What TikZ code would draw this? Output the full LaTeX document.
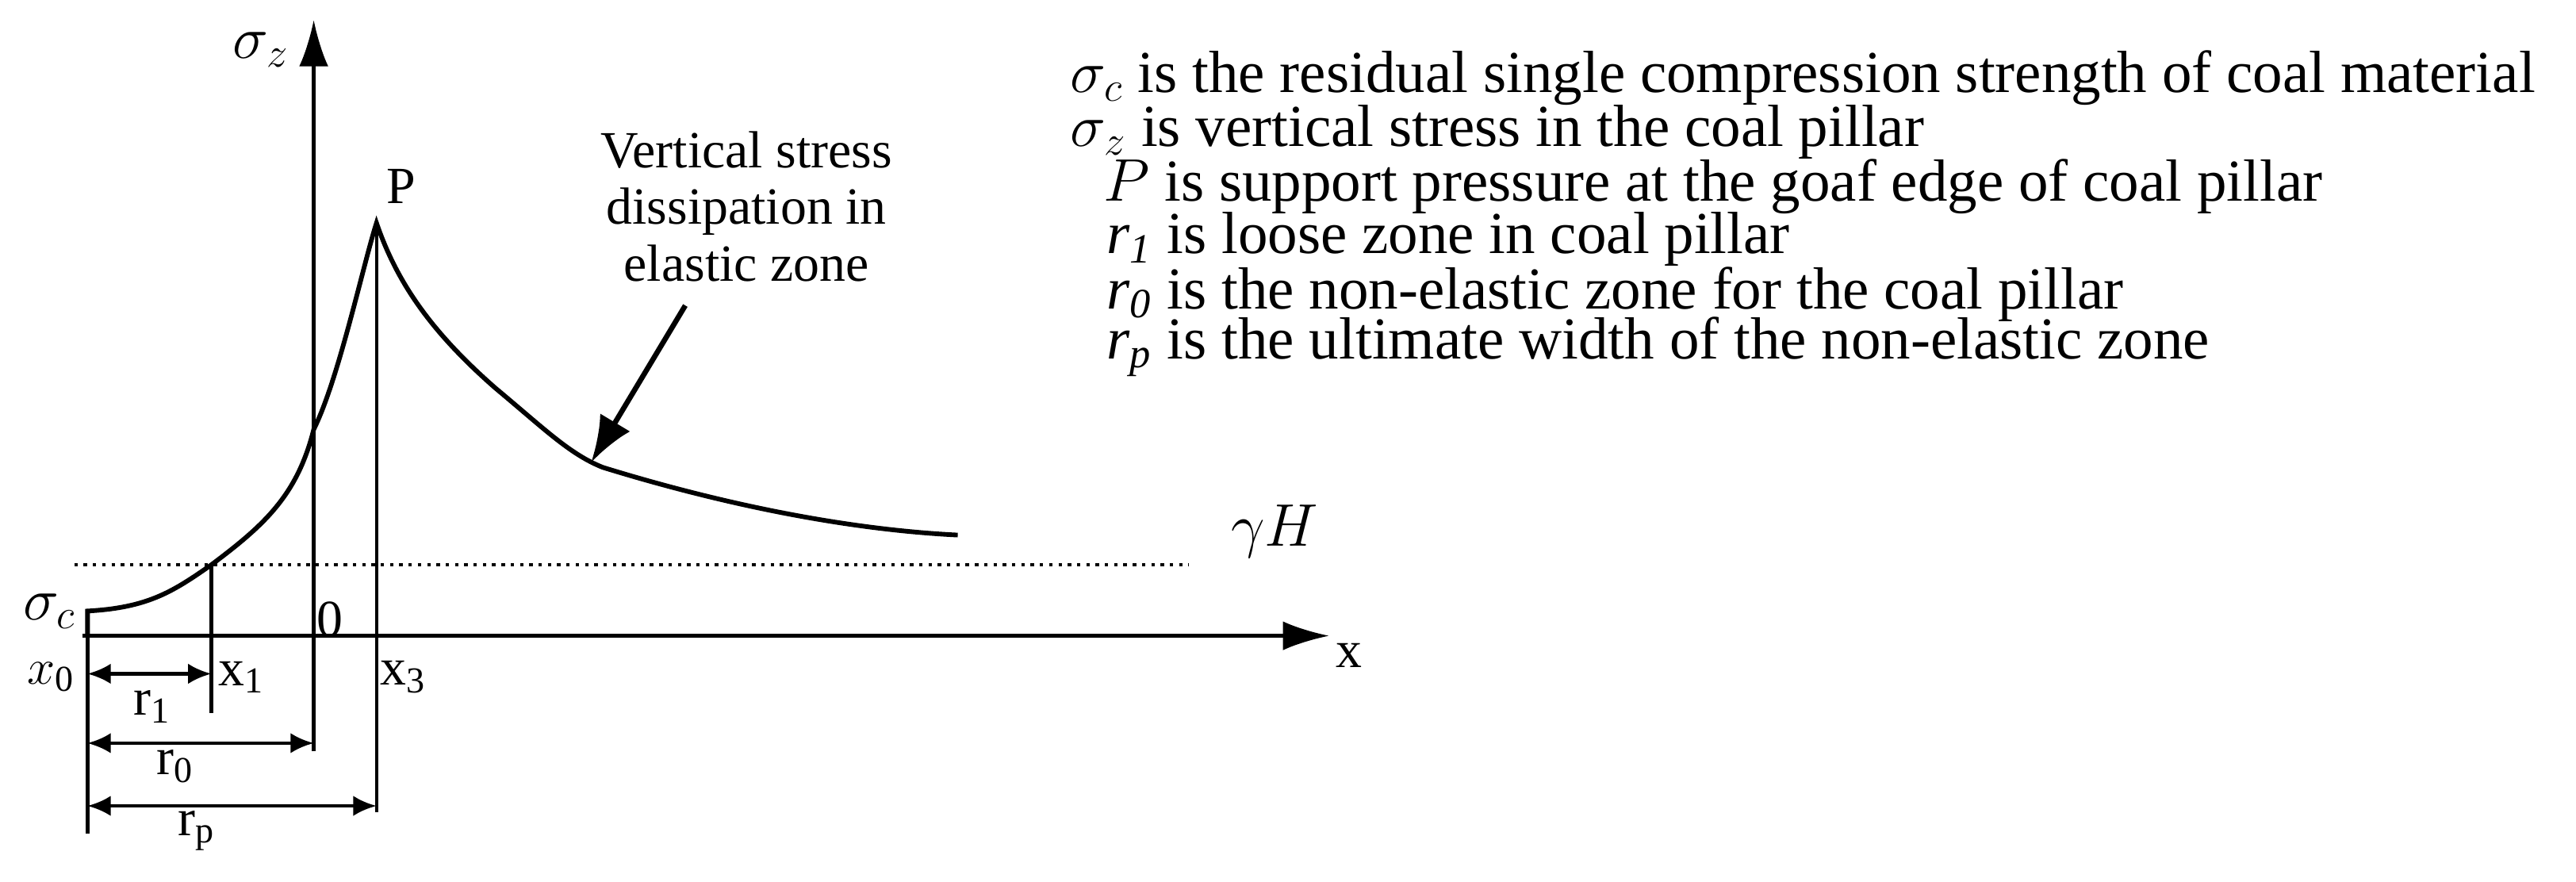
\documentclass[tikz,border=0pt]{standalone}
\usepackage{fontspec}
\setmainfont{Liberation Serif}
\usetikzlibrary{arrows.meta}
\begin{document}
\begin{tikzpicture}[x=0.02cm,y=-0.02cm,font=\fontsize{18}{21}\selectfont,
 ln/.style={line width=1.2pt},
 dim/.style={line width=1.2pt,{Latex[length=8pt,width=7pt]}-{Latex[length=8pt,width=7pt]}},
 lbl/.style={inner sep=1pt},
 big/.style={inner sep=1pt,font=\fontsize{21}{24}\selectfont}]
\useasboundingbox (0,0) rectangle (1560,534);
% axes
\coordinate (yb) at (190,455); \coordinate (yt) at (190,12);
\draw[ln,-{Latex[length=16pt,width=10pt]}] (yb) -- (yt);
\coordinate (xl) at (50,385); \coordinate (xr) at (805,385);
\draw[ln,-{Latex[length=16pt,width=10pt]}] (xl) -- (xr);
\node[lbl] (xlab) at (817,397) {x};
\node[big] (sz) at (158,30) {$\sigma_z$};
% dotted
\coordinate (d1) at (45,342); \coordinate (d2) at (720,342);
\draw[line width=1.2pt,dotted] (d1) -- (d2);
\node[big] (gh) at (772,322) {$\gamma H$};
% curve
\draw[line width=1.6pt] (53,385) -- (53,370) .. controls (90,368) and (105,358) .. (128,342)
 .. controls (160,318) and (180,300) .. (190,260) .. controls (205,230) and (220,160) .. (228,135)
 .. controls (240,170) and (260,200) .. (300,235) .. controls (330,260) and (345,275) .. (365,283)
 .. controls (420,300) and (500,320) .. (580,324);
\node[lbl] (P) at (243,113) {P};
\node[big] (sc) at (30,370) {$\sigma_c$};
\node[lbl] (zero) at (200,375) {0};
% verticals
\draw[ln] (53,370) -- (53,505);
\draw[ln] (128,342) -- (128,432);
\draw[ln] (228,135) -- (228,492);
\node[lbl] (x0) at (31,410) {$x$\textsubscript{0}};
\node[lbl] (x1) at (146,410) {x\textsubscript{1}};
\node[lbl] (x3) at (244,410) {x\textsubscript{3}};
% dimensions
\coordinate (a0) at (53,408); \coordinate (a1) at (128,408);
\draw[dim] (a0) -- (a1);
\node[lbl] (r1) at (92,428) {r\textsubscript{1}};
\coordinate (b0) at (53,450); \coordinate (b1) at (190,450);
\draw[dim] (b0) -- (b1);
\node[lbl] (r0) at (106,464) {r\textsubscript{0}};
\coordinate (c0) at (53,488); \coordinate (c1) at (228,488);
\draw[dim] (c0) -- (c1);
\node[lbl] (rp) at (119,503) {r\textsubscript{p}};
% annotation
\node[align=center,font=\fontsize{18}{19.5}\selectfont] (ann) at (452,125) {Vertical stress\\dissipation in\\elastic zone};
\coordinate (at) at (415,185); \coordinate (ah) at (358,280);
\draw[line width=1.8pt,-{Latex[length=16pt,width=12pt]}] (at) -- (ah);
% legend
\begin{scope}[every node/.style={anchor=west,inner sep=0pt,font=\fontsize{20.5}{22}\selectfont}]
\node (l1) at (648,47) {$\sigma_c$ is the residual single compression strength of coal material};
\node (l2) at (648,80) {$\sigma_z$ is vertical stress in the coal pillar};
\node (l3) at (668,113) {$P$ is support pressure at the goaf edge of coal pillar};
\node (l4) at (670,145) {\textit{r\textsubscript{1}} is loose zone in coal pillar};
\node (l5) at (670,178) {\textit{r\textsubscript{0}} is the non-elastic zone for the coal pillar};
\node (l6) at (670,210) {\textit{r\textsubscript{p}} is the ultimate width of the non-elastic zone};
\end{scope}
\end{tikzpicture}
\end{document}
